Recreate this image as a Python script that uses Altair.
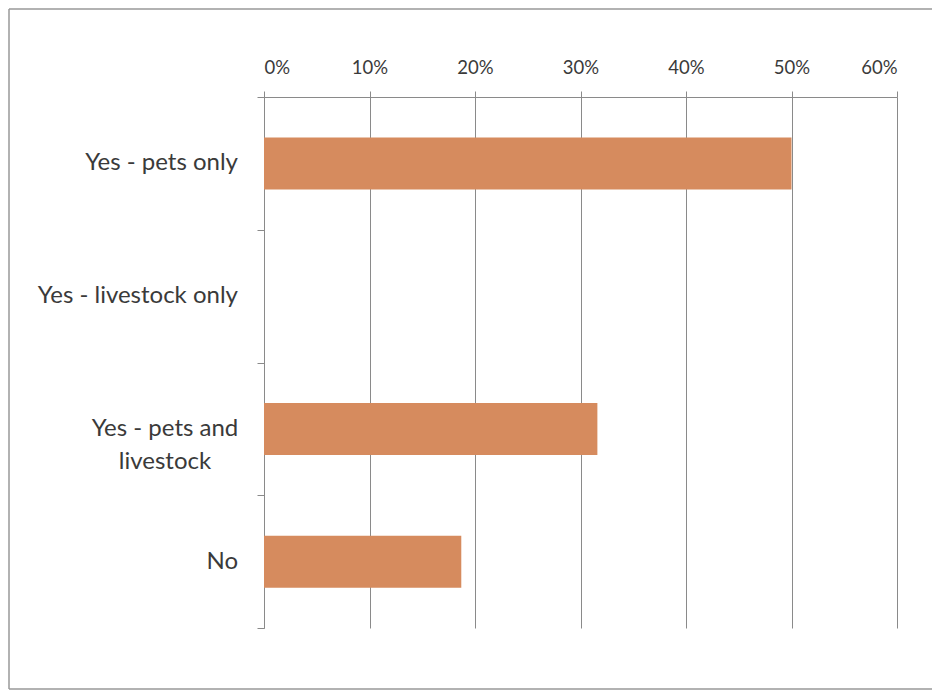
import altair as alt
import pandas as pd

categories = ["Yes - pets only", "Yes - livestock only", "Yes - pets and livestock", "No"]
display_labels = ["Yes - pets only", "Yes - livestock only", "Yes - pets and\nlivestock", "No"]
shares = [0.500, 0.0, 0.316, 0.187]
tick_values = [0.0, 0.1, 0.2, 0.3, 0.4, 0.5, 0.6]

df = pd.DataFrame({
    "category": categories,
    "label": display_labels,
    "share": shares,
    "multi": [("\n" in s) for s in display_labels],
})

GRID = "#8a8a8a"
TEXT = "#3a3a3a"
FONT = "Lato"

y_enc = alt.Y(
    "category:N",
    sort=categories,
    scale=alt.Scale(paddingInner=0, paddingOuter=0),
    axis=alt.Axis(
        title=None, labels=False, tickBand="extent", tickSize=7,
        tickColor=GRID, domainColor=GRID, grid=False, orient="left",
    ),
)

x_enc = alt.X(
    "share:Q",
    scale=alt.Scale(domain=[0, 0.6], nice=False),
    axis=alt.Axis(
        orient="top", title=None, values=tick_values, format=".0%",
        grid=True, gridColor=GRID, gridWidth=1, gridOpacity=1,
        tickColor=GRID, tickSize=6, domainColor=GRID,
        labelFont=FONT, labelFontSize=18.5, labelColor=TEXT, labelPadding=14,
    ),
)

bars = alt.Chart(df).mark_bar(size=52, color="#D68B5E").encode(x=x_enc, y=y_enc)

single = alt.Chart(df).transform_filter("!datum.multi").mark_text(
    align="right", baseline="middle", font=FONT, fontSize=24, color=TEXT
).encode(y=alt.Y("category:N", sort=categories), x=alt.value(-26), text="label:N")

multi = alt.Chart(df).transform_filter("datum.multi").mark_text(
    align="center", baseline="middle", font=FONT, fontSize=24, color=TEXT,
    lineBreak="\n", lineHeight=33,
).encode(y=alt.Y("category:N", sort=categories), x=alt.value(-99), text="label:N")

frame_data = alt.Data(values=[{"k": 1}])
top_rule = alt.Chart(frame_data).mark_rule(color="#999999", strokeWidth=1.5).encode(
    x=alt.value(-255), x2=alt.value(668), y=alt.value(-88))
left_rule = alt.Chart(frame_data).mark_rule(color="#999999", strokeWidth=1.5).encode(
    x=alt.value(-255), y=alt.value(-88), y2=alt.value(592))
bottom_rule = alt.Chart(frame_data).mark_rule(color="#999999", strokeWidth=1.5).encode(
    x=alt.value(-255), x2=alt.value(668), y=alt.value(592))

chart = alt.layer(bars, single, multi, top_rule, left_rule, bottom_rule).properties(
    width=633, height=531,
    padding={"left": 256, "top": 89, "right": 35, "bottom": 63},
    autosize=alt.AutoSizeParams(type="none"),
    background="white",
).configure_view(stroke=None)

chart.save("out.html", embed_options={"renderer": "svg", "actions": False})
